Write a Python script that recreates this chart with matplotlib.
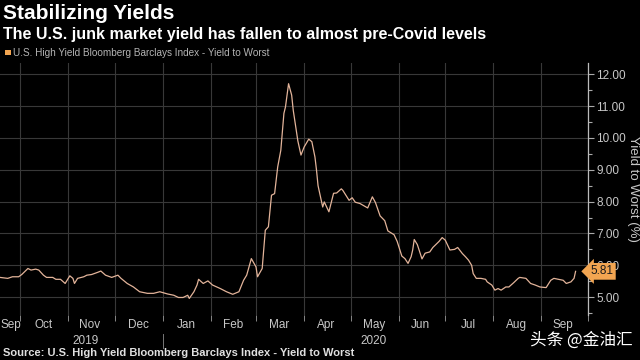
import matplotlib
matplotlib.use("Agg")
import matplotlib.pyplot as plt
import matplotlib.dates as mdates
import matplotlib.transforms as mtransforms
from matplotlib.patches import Rectangle
import pandas as pd

# data
dates = [
    "2019-09-18", "2019-09-23", "2019-09-26", "2019-09-30", "2019-10-02", "2019-10-06", "2019-10-08",
    "2019-10-11", "2019-10-13", "2019-10-16", "2019-10-18", "2019-10-22", "2019-10-24", "2019-10-27",
    "2019-10-30", "2019-11-02", "2019-11-04", "2019-11-05", "2019-11-07", "2019-11-11", "2019-11-13",
    "2019-11-16", "2019-11-20", "2019-11-22", "2019-11-25", "2019-11-29", "2019-12-03", "2019-12-05",
    "2019-12-09", "2019-12-13", "2019-12-17", "2019-12-22", "2019-12-26", "2019-12-30", "2020-01-04",
    "2020-01-08", "2020-01-11", "2020-01-14", "2020-01-17", "2020-01-18", "2020-01-21", "2020-01-23",
    "2020-01-24", "2020-01-27", "2020-01-30", "2020-02-02", "2020-02-07", "2020-02-11", "2020-02-15",
    "2020-02-19", "2020-02-22", "2020-02-24", "2020-02-27", "2020-03-01", "2020-03-02", "2020-03-05",
    "2020-03-07", "2020-03-09", "2020-03-11", "2020-03-13", "2020-03-15", "2020-03-17", "2020-03-19",
    "2020-03-20", "2020-03-22", "2020-03-24", "2020-03-25", "2020-03-28", "2020-03-30", "2020-04-01",
    "2020-04-04", "2020-04-06", "2020-04-08", "2020-04-09", "2020-04-10", "2020-04-13", "2020-04-14",
    "2020-04-17", "2020-04-20", "2020-04-22", "2020-04-25", "2020-04-26", "2020-04-30", "2020-05-02",
    "2020-05-04", "2020-05-07", "2020-05-12", "2020-05-15", "2020-05-17", "2020-05-20", "2020-05-23",
    "2020-05-25", "2020-05-29", "2020-05-31", "2020-06-03", "2020-06-05", "2020-06-07", "2020-06-09",
    "2020-06-10", "2020-06-11", "2020-06-13", "2020-06-16", "2020-06-18", "2020-06-21", "2020-06-23",
    "2020-06-27", "2020-06-29", "2020-07-01", "2020-07-04", "2020-07-07", "2020-07-09", "2020-07-12",
    "2020-07-14", "2020-07-16", "2020-07-18", "2020-07-19", "2020-07-21", "2020-07-24", "2020-07-27",
    "2020-07-28", "2020-07-31", "2020-08-02", "2020-08-04", "2020-08-06", "2020-08-09", "2020-08-11",
    "2020-08-14", "2020-08-17", "2020-08-18", "2020-08-22", "2020-08-25", "2020-08-28", "2020-08-31",
    "2020-09-04", "2020-09-07", "2020-09-09", "2020-09-12", "2020-09-15", "2020-09-17", "2020-09-20",
    "2020-09-22", "2020-09-23",
]
yields = [
    5.62, 5.59, 5.64, 5.64, 5.71, 5.90, 5.85, 5.88, 5.85, 5.69,
    5.62, 5.62, 5.56, 5.56, 5.43, 5.67, 5.59, 5.43, 5.59, 5.64,
    5.69, 5.71, 5.78, 5.82, 5.69, 5.62, 5.69, 5.59, 5.43, 5.32,
    5.17, 5.12, 5.12, 5.17, 5.10, 5.06, 4.99, 4.99, 5.06, 4.96,
    5.17, 5.38, 5.56, 5.43, 5.51, 5.38, 5.27, 5.17, 5.09, 5.17,
    5.53, 5.69, 6.21, 5.95, 5.64, 5.90, 7.10, 7.21, 8.20, 8.25,
    9.09, 9.61, 10.77, 10.97, 11.70, 11.34, 10.87, 9.90, 9.46, 9.71,
    9.96, 9.88, 9.40, 8.99, 8.50, 7.83, 7.99, 7.68, 8.26, 8.27,
    8.40, 8.35, 8.04, 8.12, 7.98, 7.94, 7.80, 8.15, 7.97, 7.55,
    7.40, 7.08, 6.96, 6.75, 6.29, 6.21, 6.06, 6.27, 6.48, 6.81,
    6.65, 6.20, 6.38, 6.42, 6.56, 6.75, 6.87, 6.79, 6.48, 6.50,
    6.56, 6.37, 6.27, 6.16, 6.00, 5.74, 5.59, 5.59, 5.56, 5.48,
    5.38, 5.22, 5.27, 5.22, 5.32, 5.32, 5.45, 5.59, 5.62, 5.59,
    5.43, 5.38, 5.32, 5.30, 5.53, 5.59, 5.56, 5.53, 5.43, 5.48,
    5.59, 5.81,
]
month_labels = ["Sep", "Oct", "Nov", "Dec", "Jan", "Feb", "Mar", "Apr", "May", "Jun", "Jul", "Aug", "Sep"]
month_label_dates = ["2019-09-25", "2019-10-16", "2019-11-15", "2019-12-16", "2020-01-16", "2020-02-15",
                     "2020-03-16", "2020-04-15", "2020-05-16", "2020-06-15", "2020-07-16", "2020-08-16",
                     "2020-09-15"]
year_labels = ["2019", "2020"]
year_label_dates = ["2019-11-12", "2020-05-16"]
year_break = "2020-01-01"
y_ticks = [5, 6, 7, 8, 9, 10, 11, 12]

BG = "#000000"
LINE = "#e3b49a"
ORANGE = "#f2a551"
GRID = "#383838"
TXT = "#c8c8c8"
sans = ["Liberation Sans", "DejaVu Sans"]

x = pd.to_datetime(dates)

fig = plt.figure(figsize=(6.4, 3.6), dpi=100, facecolor=BG)
ax = fig.add_axes([0.0, 0.125, 0.91875, 0.70])
ax.set_facecolor(BG)

ax.plot(x, yields, color=LINE, lw=0.9, zorder=3)

ax.set_xlim(pd.Timestamp("2019-09-18"), pd.Timestamp("2020-10-01"))
ax.set_ylim(4.44, 12.35)

# x axis: gridlines + ticks at month starts, labels mid-month
ax.xaxis.set_major_locator(mdates.MonthLocator())
ax.xaxis.set_major_formatter(plt.NullFormatter())
ax.set_xticks(pd.to_datetime(month_label_dates), minor=True)
ax.set_xticklabels(month_labels, minor=True, fontfamily=sans, fontsize=8.5, color=TXT)
ax.tick_params(axis="x", which="major", length=4, width=0.7, color="#888888", direction="out")
ax.tick_params(axis="x", which="minor", length=0, pad=3)

# y axis on the right
ax.yaxis.tick_right()
ax.set_yticks(y_ticks)
ax.set_yticks([v + 0.5 for v in [4] + y_ticks[:-1]], minor=True)
ax.set_yticklabels([f"{v:.2f}" for v in y_ticks], fontfamily=sans, fontsize=8.5, color=TXT)
ax.tick_params(axis="y", which="major", length=4, width=0.8, color="#aaaaaa", pad=2)
ax.tick_params(axis="y", which="minor", length=3, width=0.8, color="#aaaaaa")
ax.yaxis.set_label_position("right")
ax.set_ylabel("Yield to Worst (%)", rotation=270, color=TXT, fontsize=9.5, fontfamily=sans,
              va="center", ha="center")
ax.yaxis.set_label_coords(1.077, 0.5)

ax.grid(True, which="major", color=GRID, lw=0.8)
ax.set_axisbelow(True)
for side in ["top", "left", "bottom"]:
    ax.spines[side].set_visible(False)
ax.spines["right"].set_color("#bbbbbb")
ax.spines["right"].set_linewidth(0.9)

# year row under the months
trans = mtransforms.blended_transform_factory(ax.transData, ax.transAxes)
for lbl, d in zip(year_labels, year_label_dates):
    ax.text(pd.Timestamp(d), -0.104, lbl, transform=trans, ha="center", va="center",
            fontsize=8.5, color=TXT, fontfamily=sans)
ax.plot([pd.Timestamp(year_break)] * 2, [-0.075, -0.13], transform=trans, color="#777777",
        lw=0.7, clip_on=False)

# last value tag
ax.text(1.004, yields[-1], f"{yields[-1]:.2f}", transform=ax.get_yaxis_transform(),
        ha="left", va="center", fontsize=8.5, color="#1a1a1a", fontfamily=sans, zorder=10,
        bbox=dict(boxstyle="larrow,pad=0.2", fc=ORANGE, ec="none"), clip_on=False)

# titles, legend, source
fig.text(0.005, 0.946, "Stabilizing Yields", fontsize=15, fontweight="bold", color="white", fontfamily=sans)
fig.text(0.005, 0.893, "The U.S. junk market yield has fallen to almost pre-Covid levels",
         fontsize=11.5, fontweight="bold", color="white", fontfamily=sans)
fig.patches.append(Rectangle((0.008, 0.846), 0.009, 0.016, transform=fig.transFigure,
                             facecolor=ORANGE, edgecolor="none"))
fig.text(0.021, 0.854, "U.S. High Yield Bloomberg Barclays Index - Yield to Worst",
         fontsize=7.2, color="#b4b4b4", va="center", fontfamily=sans)
fig.text(0.005, 0.01, "Source: U.S. High Yield Bloomberg Barclays Index - Yield to Worst",
         fontsize=8, fontweight="bold", color="#e0e0e0", fontfamily=sans)
fig.text(0.988, 0.056, "头条 @金油汇", fontsize=12, color="white", ha="right", va="center",
         fontfamily=["Noto Sans CJK SC", "DejaVu Sans"])

fig.savefig("out.png", dpi=100, facecolor=BG)
